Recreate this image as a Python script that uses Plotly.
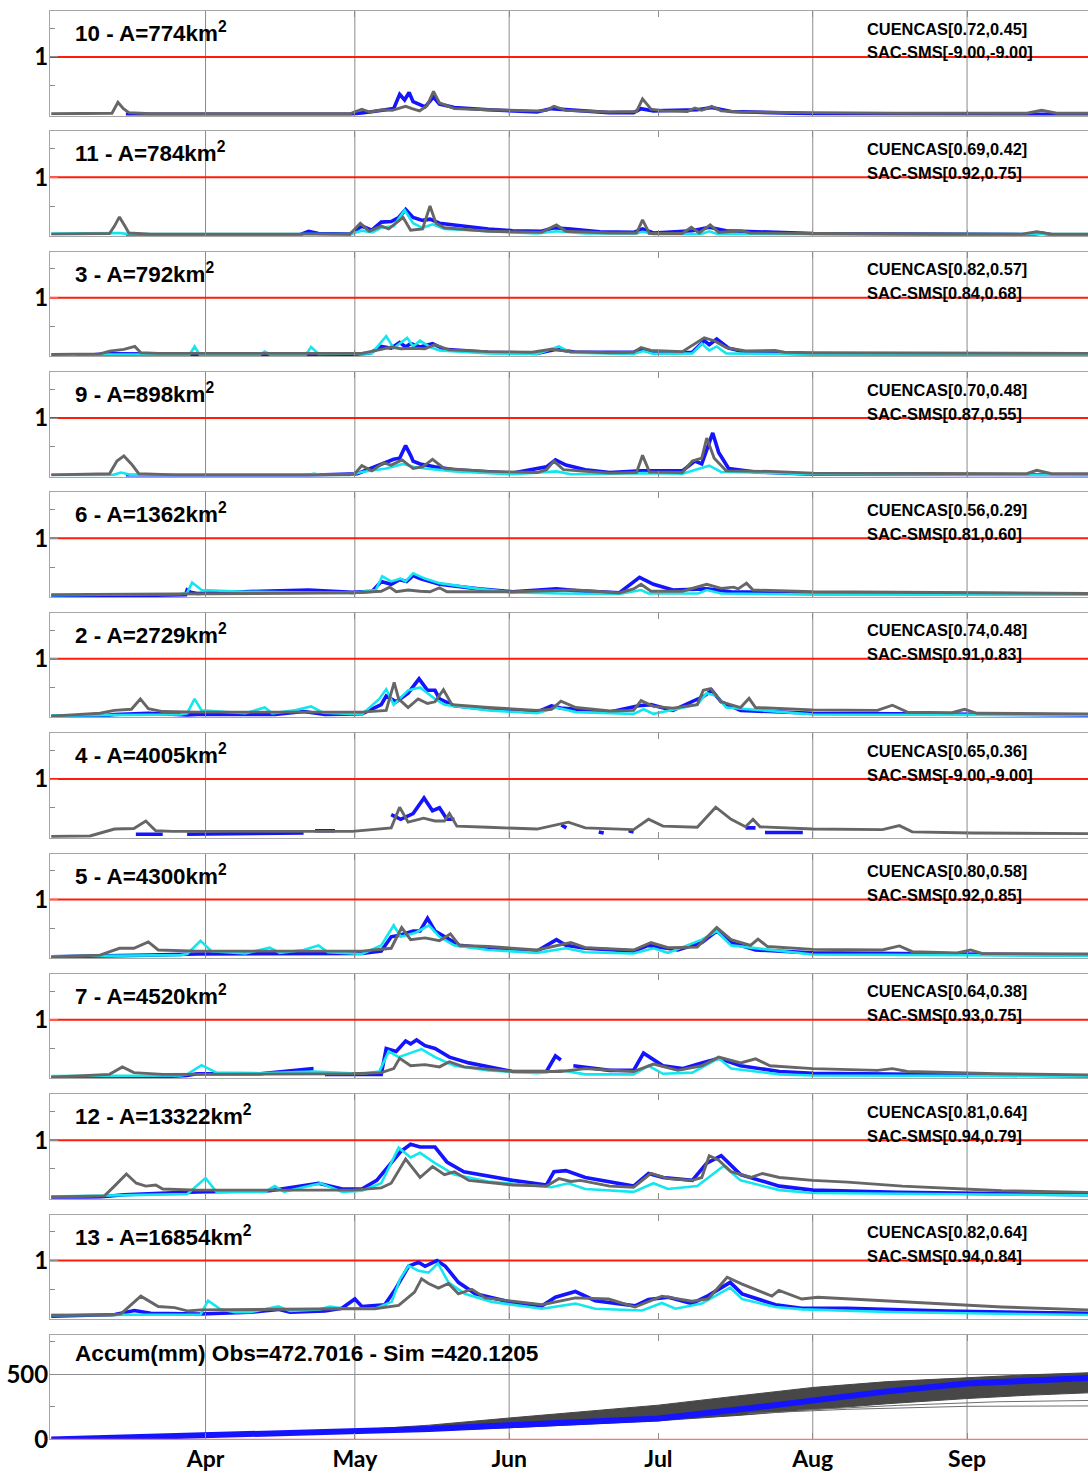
import pandas as pd
import plotly.graph_objects as go

# ---------------------------------------------------------------------------
# Daily streamflow (normalised) per basin: (day since 1 Mar, value) pairs.
# OBS = observed (blue), CUENCAS = CUENCAS model (gray), SAC = SAC-SMS (cyan)
# ---------------------------------------------------------------------------
START = pd.Timestamp("2015-03-01")

BASIN_IDS = [10, 11, 3, 9, 6, 2, 4, 5, 7, 12, 13]
BASIN_AREAS = [774, 784, 792, 898, 1362, 2729, 4005, 4300, 4520, 13322, 16854]
CUENCAS_SCORES = [(0.72, 0.45), (0.69, 0.42), (0.82, 0.57), (0.70, 0.48), (0.56, 0.29),
                  (0.74, 0.48), (0.65, 0.36), (0.80, 0.58), (0.64, 0.38), (0.81, 0.64),
                  (0.82, 0.64)]
SAC_SCORES = [(-9.00, -9.00), (0.92, 0.75), (0.84, 0.68), (0.87, 0.55), (0.81, 0.60),
              (0.91, 0.83), (-9.00, -9.00), (0.92, 0.85), (0.93, 0.75), (0.94, 0.79),
              (0.94, 0.84)]

Q_CUENCAS_10 = [(0, 0.01), (12.2, 0.02), (13.4, 0.21), (14.5, 0.1), (15.6, 0.03), (20, 0.01), (60, 0.01),
                (62.4, 0.09), (64, 0.04), (66.8, 0.08), (68.5, 0.07), (71.2, 0.14), (72.5, 0.1), (74, 0.06),
                (75.5, 0.15), (76.8, 0.40), (78, 0.2), (81, 0.1), (87.8, 0.08), (97.6, 0.06), (99.5, 0.07),
                (101, 0.14), (103.4, 0.07), (112, 0.04), (117.6, 0.05), (118.8, 0.27), (120.5, 0.09),
                (123, 0.06), (127.8, 0.05), (129.3, 0.11), (130.7, 0.07), (132.7, 0.14), (134.6, 0.06),
                (138.5, 0.04), (153, 0.03), (170, 0.02), (196, 0.02), (199, 0.07), (202, 0.02), (208.5, 0.02)]
Q_OBS_10 = [(15, 0.0), (40, 0.0), (60, 0.0), (64, 0.04), (67.3, 0.08), (68.8, 0.1), (70, 0.35), (71, 0.25),
            (71.9, 0.38), (72.7, 0.22), (75.1, 0.13), (76.8, 0.30), (78, 0.18), (81, 0.12), (87.8, 0.08),
            (97.6, 0.04), (100.5, 0.1), (103.4, 0.08), (112, 0.03), (117, 0.03), (118.5, 0.1), (121, 0.06),
            (129.8, 0.08), (132.7, 0.12), (136.6, 0.05), (153, 0.01), (208.5, 0.0)]
Q_SAC_10 = []

Q_CUENCAS_11 = [(0, 0.01), (11.7, 0.02), (12.7, 0.15), (13.7, 0.31), (14.8, 0.15), (15.6, 0.03), (20, 0.01),
                (60, 0.01), (62.1, 0.2), (63.9, 0.06), (66.3, 0.15), (67.8, 0.1), (70.7, 0.30), (72.2, 0.08),
                (74.6, 0.1), (76.1, 0.50), (77.3, 0.2), (79, 0.12), (87.8, 0.06), (98.5, 0.04), (101.5, 0.17),
                (103.4, 0.06), (112.2, 0.03), (117.6, 0.03), (118.8, 0.26), (120.2, 0.02), (126.8, 0.02),
                (128.6, 0.13), (130.2, 0.03), (132.4, 0.17), (134.1, 0.04), (138.5, 0.07), (140.5, 0.03),
                (153, 0.02), (195, 0.01), (198, 0.05), (201, 0.01), (208.5, 0.01)]
Q_OBS_11 = [(15, 0.0), (50, 0.0), (51.7, 0.06), (53.7, 0.02), (60, 0.01), (62.4, 0.15), (64.4, 0.08),
            (66.3, 0.22), (68.3, 0.23), (69.8, 0.3), (71.2, 0.44), (72.7, 0.3), (74.6, 0.25), (76.1, 0.27),
            (78, 0.2), (82.9, 0.15), (87.8, 0.1), (92.7, 0.07), (98.5, 0.06), (101, 0.12), (104.4, 0.1),
            (110.2, 0.05), (117, 0.04), (118.8, 0.1), (121, 0.03), (128.8, 0.07), (132.2, 0.13), (135.6, 0.07),
            (139.5, 0.06), (153, 0.02), (197, 0.0), (199, 0.03), (201, 0.0), (208.5, 0.0)]
Q_SAC_11 = [(0, 0.02), (11.7, 0.02), (13.7, 0.03), (15.6, 0.01), (60, 0.01), (62.4, 0.07), (64.5, 0.04),
            (66.3, 0.12), (68.8, 0.15), (71, 0.43), (72.7, 0.2), (74.6, 0.12), (76.6, 0.18), (79, 0.1),
            (87.8, 0.06), (97.6, 0.02), (101.5, 0.06), (107.3, 0.02), (117.5, 0.02), (118.8, 0.05), (121, 0.01),
            (130.5, 0.01), (132.2, 0.06), (134, 0.01), (153, 0.01), (208.5, 0.01)]

Q_CUENCAS_3 = [(0, 0.01), (9.8, 0.02), (11.7, 0.07), (14.6, 0.1), (16.8, 0.15), (18, 0.04), (21.5, 0.03),
               (60, 0.03), (62.4, 0.03), (66.3, 0.1), (68.3, 0.14), (70.2, 0.11), (72.7, 0.12), (75.1, 0.11),
               (77, 0.18), (80, 0.09), (87.8, 0.06), (96.6, 0.05), (100.5, 0.1), (104.4, 0.06), (112.2, 0.04),
               (117, 0.05), (118.5, 0.13), (120.5, 0.08), (126.8, 0.06), (131.2, 0.30), (133.2, 0.25),
               (135.6, 0.13), (139.5, 0.07), (145.4, 0.08), (147.3, 0.05), (153, 0.04), (208.5, 0.03)]
Q_OBS_3 = [(5, 0.0), (8, 0.0), (10.7, 0.02), (15.6, 0.02), (20, 0.01), (60, 0.01), (64, 0.03), (66.3, 0.15),
           (68.3, 0.12), (70, 0.22), (71.2, 0.14), (72.2, 0.2), (74.1, 0.14), (76.6, 0.2), (79, 0.1),
           (87.8, 0.05), (97.6, 0.03), (101.5, 0.1), (105.4, 0.05), (117, 0.05), (118.5, 0.1), (121, 0.04),
           (128.8, 0.05), (131.2, 0.25), (132.2, 0.18), (133.7, 0.28), (136.1, 0.12), (139.5, 0.05),
           (153, 0.02), (208.5, 0.01)]
Q_SAC_3 = [(0, 0.01), (27.8, 0.01), (28.8, 0.15), (29.8, 0.01), (42, 0.01), (42.9, 0.06), (43.9, 0.01),
           (51.2, 0.01), (52.2, 0.14), (53.7, 0.02), (64.4, 0.03), (67.3, 0.33), (68.8, 0.12), (71.5, 0.3),
           (72.7, 0.15), (74.1, 0.25), (76.1, 0.14), (78, 0.08), (87.8, 0.03), (97.6, 0.02), (102, 0.15),
           (104.4, 0.04), (117, 0.02), (119, 0.07), (121, 0.02), (128.8, 0.03), (130.7, 0.2), (132.2, 0.08),
           (133.7, 0.15), (135.6, 0.03), (153, 0.01), (208.5, 0.01)]

Q_CUENCAS_9 = [(0, 0.01), (11.7, 0.03), (13.2, 0.25), (14.6, 0.34), (16.1, 0.2), (17.6, 0.03), (25, 0.01),
               (60, 0.01), (61, 0.03), (62.4, 0.17), (64.4, 0.08), (66.8, 0.22), (68.3, 0.18), (70.5, 0.27),
               (72.7, 0.12), (74.6, 0.15), (76.6, 0.28), (79, 0.12), (87.8, 0.07), (97.6, 0.05), (99.5, 0.1),
               (101, 0.25), (102.9, 0.1), (112.2, 0.04), (117.6, 0.05), (118.8, 0.35), (120.2, 0.06),
               (126.8, 0.05), (128.8, 0.25), (130.7, 0.3), (131.7, 0.65), (133.2, 0.3), (135.6, 0.08),
               (144.4, 0.07), (153, 0.04), (196, 0.03), (198, 0.09), (201, 0.03), (208.5, 0.03)]
Q_OBS_9 = [(15, 0.0), (50, 0.0), (61.5, 0.03), (66.3, 0.2), (68.8, 0.28), (70, 0.3), (71.2, 0.52),
           (72.2, 0.35), (72.7, 0.25), (74.1, 0.2), (77, 0.15), (81, 0.1), (92.7, 0.04), (99.5, 0.15),
           (101.3, 0.27), (103.4, 0.18), (107.3, 0.1), (112.2, 0.05), (118.5, 0.08), (126.8, 0.08),
           (129.3, 0.25), (130.7, 0.2), (132.9, 0.74), (134.1, 0.4), (136.1, 0.12), (141.5, 0.06),
           (153, 0.02), (208.5, 0.01)]
Q_SAC_9 = [(0, 0.01), (12.5, 0.01), (14, 0.05), (16, 0.01), (52, 0.01), (52.7, 0.03), (54, 0.01), (60, 0.01),
           (62.4, 0.06), (67.3, 0.12), (70.7, 0.2), (72.7, 0.15), (75.1, 0.12), (77, 0.1), (81, 0.07),
           (92.7, 0.02), (101.5, 0.07), (104.4, 0.02), (119, 0.04), (126.8, 0.03), (132.2, 0.17),
           (134.6, 0.06), (141.5, 0.05), (153, 0.02), (208.5, 0.01)]

Q_CUENCAS_6 = [(0, 0.02), (29.3, 0.03), (60.5, 0.05), (66.3, 0.08), (68, 0.15), (69.3, 0.07), (71.7, 0.1),
               (74.1, 0.08), (76.1, 0.07), (78, 0.14), (79.5, 0.07), (92.7, 0.07), (105.4, 0.1), (114.1, 0.05),
               (117, 0.12), (118.5, 0.2), (120.5, 0.08), (126.8, 0.08), (131.7, 0.2), (134.6, 0.13),
               (137.1, 0.15), (138, 0.12), (139.7, 0.22), (141, 0.1), (153, 0.07), (208.5, 0.04)]
Q_OBS_6 = [(0, 0.0), (3, 0.0), (11.7, 0.01), (14.6, 0.0), (27, 0.02), (27.3, 0.1), (28, 0.06), (29.3, 0.04),
           (42, 0.08), (51.7, 0.1), (60.5, 0.06), (64.5, 0.08), (66.3, 0.25), (68.3, 0.2), (70, 0.28),
           (71.4, 0.25), (72.7, 0.35), (74.1, 0.3), (78, 0.2), (85.9, 0.12), (92.7, 0.07), (101.5, 0.12),
           (105.4, 0.09), (114.1, 0.05), (118.2, 0.32), (121, 0.2), (124.9, 0.1), (131.7, 0.12), (136.6, 0.07),
           (153, 0.05), (208.5, 0.03)]
Q_SAC_6 = [(0, 0.01), (26, 0.03), (27.3, 0.05), (28.3, 0.23), (30.2, 0.1), (39, 0.07), (48.8, 0.06),
           (60.5, 0.05), (65.2, 0.1), (66.5, 0.34), (68.3, 0.25), (70.2, 0.3), (71.2, 0.25), (72.7, 0.39),
           (75.1, 0.3), (78, 0.22), (85.9, 0.12), (92.7, 0.06), (102.4, 0.04), (114.1, 0.03), (118.5, 0.1),
           (120, 0.04), (130, 0.04), (131.7, 0.1), (134.6, 0.04), (153, 0.02), (208.5, 0.02)]

Q_CUENCAS_2 = [(0, 0.0), (9.8, 0.05), (12.7, 0.1), (16.1, 0.12), (17.9, 0.30), (19.5, 0.13), (22.4, 0.08),
               (29.3, 0.07), (62.4, 0.07), (67.3, 0.1), (68.9, 0.59), (69.8, 0.3), (71.7, 0.15), (73.7, 0.3),
               (75.6, 0.22), (77.1, 0.25), (78.8, 0.46), (80.5, 0.2), (87.8, 0.15), (97.6, 0.1), (100.5, 0.12),
               (102.4, 0.26), (105.4, 0.15), (112.2, 0.09), (117, 0.1), (118.5, 0.27), (121, 0.17),
               (124.9, 0.14), (129.8, 0.2), (131, 0.45), (132.5, 0.48), (134.6, 0.25), (138.5, 0.15),
               (140.2, 0.31), (141.5, 0.15), (153, 0.11), (166, 0.1), (169, 0.19), (172, 0.07), (181, 0.06),
               (183.5, 0.12), (186, 0.05), (208.5, 0.04)]
Q_OBS_2 = [(0, 0.0), (10, 0.0), (12.7, 0.03), (19.5, 0.05), (27.3, 0.02), (29.3, 0.03), (45, 0.03),
           (50.7, 0.08), (55, 0.03), (62.4, 0.04), (66.3, 0.2), (67.3, 0.35), (69.3, 0.25), (71.7, 0.4),
           (73.9, 0.65), (75.6, 0.45), (77.1, 0.45), (78, 0.3), (81, 0.18), (87.8, 0.12), (97.6, 0.07),
           (100.5, 0.18), (102.4, 0.14), (112.2, 0.07), (118, 0.18), (120.5, 0.2), (124.9, 0.1), (129.8, 0.3),
           (131.2, 0.35), (132.7, 0.45), (134.6, 0.25), (138.5, 0.1), (153, 0.05), (208.5, 0.02)]
Q_SAC_2 = [(0, 0.01), (26, 0.03), (27.3, 0.05), (28.8, 0.30), (30.2, 0.1), (39, 0.05), (42.9, 0.15),
           (44.4, 0.05), (48.8, 0.1), (52.2, 0.17), (54.6, 0.06), (62.4, 0.03), (65.9, 0.3), (67.3, 0.47),
           (68.8, 0.2), (71.7, 0.45), (74.1, 0.5), (77.1, 0.3), (79, 0.2), (87.8, 0.1), (97.6, 0.05),
           (101.5, 0.15), (105.4, 0.07), (117, 0.04), (119, 0.12), (121, 0.04), (129.8, 0.2), (131.7, 0.4),
           (133.7, 0.35), (135.6, 0.15), (153, 0.03), (208.5, 0.02)]

Q_CUENCAS_4 = [(0, 0.0), (7.8, 0.01), (12.7, 0.13), (16.6, 0.14), (19, 0.27), (21, 0.1), (24.4, 0.09),
               (60.5, 0.09), (68.3, 0.15), (70, 0.51), (71.7, 0.25), (74.8, 0.32), (77.1, 0.27), (79, 0.27),
               (80, 0.4), (81.5, 0.18), (87.8, 0.16), (97.6, 0.13), (103.9, 0.25), (107.3, 0.15), (117, 0.12),
               (120, 0.3), (122.9, 0.18), (129.8, 0.16), (133.5, 0.51), (136.6, 0.3), (139.5, 0.17), (141, 0.3),
               (142.4, 0.17), (153, 0.13), (167, 0.12), (170.4, 0.19), (173, 0.08), (185, 0.06), (208.5, 0.05)]
Q_OBS_4 = [(17, 0.04), (22.4, 0.04), (23, None), (27.3, 0.04), (40, 0.05), (50.7, 0.06), (51, None),
           (53, 0.1), (57, 0.1), (57.5, None), (68.3, 0.38), (70.2, 0.3), (72.7, 0.4), (74.9, 0.67),
           (76.6, 0.45), (78, 0.5), (79.5, 0.3), (81, 0.3), (81.5, None), (102.5, 0.2), (103.5, 0.15),
           (104, None), (110, 0.08), (111, 0.06), (111.5, None), (116, 0.1), (117, 0.08), (117.5, None),
           (139.5, 0.15), (141.5, 0.15), (142, None), (143.4, 0.07), (151, 0.07)]
Q_SAC_4 = []

Q_CUENCAS_5 = [(0, 0.0), (9.8, 0.03), (13.7, 0.15), (16.6, 0.15), (19.5, 0.26), (21.5, 0.12), (29.3, 0.1),
               (62.4, 0.1), (68.3, 0.15), (70.4, 0.51), (72.2, 0.3), (75.1, 0.33), (78, 0.28), (80.2, 0.4),
               (82, 0.2), (87.8, 0.18), (97.6, 0.12), (104.4, 0.25), (107.3, 0.16), (117, 0.12), (120.5, 0.25),
               (123.9, 0.16), (129.8, 0.17), (133.7, 0.51), (136.6, 0.3), (140.5, 0.2), (142, 0.31),
               (143.9, 0.18), (153, 0.13), (167, 0.12), (170.4, 0.19), (173, 0.09), (182, 0.07), (184.7, 0.12),
               (187, 0.06), (208.5, 0.05)]
Q_OBS_5 = [(0, 0.0), (12, 0.01), (19.5, 0.03), (29.3, 0.05), (58.5, 0.05), (62.4, 0.06), (66.3, 0.1),
           (68.3, 0.35), (70.2, 0.38), (72.7, 0.45), (74.1, 0.45), (75.6, 0.67), (77.1, 0.45), (79, 0.35),
           (82, 0.2), (87.8, 0.15), (97.6, 0.1), (101.5, 0.3), (103.4, 0.2), (107.3, 0.15), (117, 0.1),
           (120, 0.2), (125.9, 0.12), (130.7, 0.25), (133.7, 0.45), (136.6, 0.25), (141.5, 0.12), (153, 0.07),
           (208.5, 0.03)]
Q_SAC_5 = [(0, 0.01), (26, 0.03), (27.3, 0.05), (30, 0.28), (32.2, 0.1), (39, 0.06), (43.9, 0.16),
           (45.9, 0.07), (50.7, 0.12), (53.7, 0.2), (55.6, 0.08), (62.4, 0.05), (66.3, 0.2), (68.8, 0.55),
           (70.2, 0.35), (73.2, 0.42), (75.9, 0.55), (78, 0.35), (81, 0.2), (87.8, 0.12), (97.6, 0.07),
           (103.4, 0.15), (107.3, 0.08), (117, 0.06), (121, 0.15), (123.9, 0.07), (130.7, 0.3), (133.7, 0.45),
           (136.6, 0.2), (153, 0.04), (208.5, 0.02)]

Q_CUENCAS_7 = [(0, 0.0), (11.7, 0.05), (14.3, 0.18), (16.6, 0.08), (22.4, 0.05), (60.5, 0.06), (66.3, 0.08),
               (68.8, 0.15), (70, 0.33), (72.2, 0.2), (75.1, 0.22), (78, 0.18), (80, 0.27), (82.9, 0.18),
               (92.7, 0.1), (102.4, 0.1), (107.3, 0.15), (117, 0.1), (121, 0.23), (125.9, 0.12), (130.7, 0.2),
               (134.1, 0.35), (138.5, 0.25), (141.5, 0.32), (144.4, 0.2), (153, 0.15), (166, 0.12), (169, 0.15),
               (172, 0.1), (190, 0.06), (208.5, 0.04)]
Q_OBS_7 = [(0, 0.0), (20, 0.0), (27.3, 0.03), (29.3, 0.06), (42, 0.06), (52.7, 0.15), (53, None), (55, 0.05),
           (66.3, 0.05), (67.3, 0.5), (69.3, 0.45), (71.2, 0.63), (72.2, 0.58), (73.4, 0.65), (75.1, 0.55),
           (77.1, 0.5), (80, 0.35), (83.9, 0.25), (92.7, 0.1), (99.5, 0.1), (101.3, 0.37), (102.4, 0.3),
           (102.8, None), (104.9, 0.2), (112.2, 0.12), (117, 0.12), (119, 0.42), (122.9, 0.2), (126.8, 0.15),
           (130.7, 0.25), (134.1, 0.33), (138.5, 0.2), (146.3, 0.1), (153, 0.07), (208.5, 0.02)]
Q_SAC_7 = [(0, 0.02), (26, 0.03), (27.3, 0.05), (30.2, 0.21), (33.2, 0.08), (42, 0.07), (52.7, 0.1),
           (62.4, 0.06), (65.9, 0.1), (67.8, 0.45), (69.8, 0.35), (72.2, 0.42), (74.4, 0.49), (77.1, 0.35),
           (81, 0.2), (87.8, 0.12), (97.6, 0.07), (102.4, 0.12), (107.3, 0.05), (117, 0.05), (120, 0.2),
           (122.9, 0.06), (128.8, 0.08), (134.1, 0.33), (136.6, 0.15), (146.3, 0.05), (153, 0.03), (208.5, 0.02)]

Q_CUENCAS_12 = [(0, 0.01), (10.7, 0.03), (12.7, 0.2), (15.1, 0.41), (17.1, 0.25), (19, 0.2), (21, 0.22),
                (22.4, 0.15), (29.3, 0.13), (60.5, 0.13), (66.3, 0.17), (68.3, 0.25), (71.2, 0.67), (74.1, 0.35),
                (76.6, 0.54), (79, 0.4), (81, 0.45), (83.9, 0.3), (92.7, 0.22), (99.5, 0.2), (102, 0.33),
                (104.4, 0.28), (106.3, 0.3), (112.2, 0.2), (117, 0.18), (120.5, 0.42), (123.9, 0.33),
                (128.8, 0.3), (130.7, 0.35), (132.2, 0.73), (134.1, 0.65), (136.6, 0.45), (140.5, 0.35),
                (142.9, 0.42), (146.3, 0.35), (153, 0.3), (160, 0.27), (171, 0.2), (191, 0.12), (208.5, 0.09)]
Q_OBS_12 = [(0, 0.0), (9.8, 0.01), (14.6, 0.05), (29.3, 0.1), (43.9, 0.12), (53.7, 0.25), (58.5, 0.15),
            (62.4, 0.15), (65.4, 0.3), (68.3, 0.6), (70.2, 0.8), (72.2, 0.93), (74.1, 0.88), (77.1, 0.88),
            (79.5, 0.62), (82.9, 0.45), (92.7, 0.3), (99.5, 0.22), (101, 0.45), (103.4, 0.47), (107.3, 0.35),
            (117, 0.2), (120, 0.42), (122.9, 0.35), (128.8, 0.3), (131.7, 0.6), (134.6, 0.73), (138.5, 0.4),
            (146.3, 0.2), (153, 0.13), (170, 0.09), (208.5, 0.05)]
Q_SAC_12 = [(0, 0.02), (26, 0.05), (27.3, 0.06), (31, 0.34), (33.2, 0.1), (42.9, 0.1), (44.9, 0.2),
            (46.8, 0.1), (54.1, 0.25), (58.5, 0.1), (62.4, 0.12), (66.3, 0.25), (69.8, 0.87), (72.2, 0.7),
            (74.1, 0.78), (77.1, 0.6), (81, 0.4), (87.8, 0.28), (97.6, 0.2), (100.5, 0.18), (103.9, 0.25),
            (107.3, 0.15), (117, 0.1), (121, 0.25), (123.9, 0.15), (129.8, 0.2), (135.1, 0.55), (138.5, 0.3),
            (146.3, 0.13), (153, 0.08), (208.5, 0.04)]

Q_CUENCAS_13 = [(0, 0.05), (12, 0.05), (14, 0.07), (18, 0.38), (21.5, 0.2), (24.8, 0.18), (27.5, 0.12),
                (30, 0.14), (58.4, 0.16), (65, 0.16), (69.8, 0.22), (73, 0.45), (74.4, 0.68), (75.8, 0.6),
                (77.8, 0.52), (79.8, 0.6), (81.8, 0.42), (84.5, 0.5), (87.2, 0.35), (92, 0.3), (98.6, 0.23),
                (105.3, 0.35), (112, 0.33), (117.3, 0.19), (122.7, 0.38), (128.7, 0.29), (132, 0.33),
                (135.8, 0.71), (138.8, 0.59), (142.8, 0.45), (144.8, 0.38), (146.2, 0.48), (150.8, 0.33),
                (154, 0.36), (171, 0.28), (191, 0.19), (208.5, 0.14)]
Q_OBS_13 = [(0, 0.03), (12.8, 0.06), (16.7, 0.13), (20, 0.08), (30, 0.07), (40, 0.1), (45.6, 0.15), (48, 0.1),
            (55, 0.12), (58.4, 0.17), (61, 0.33), (62.4, 0.2), (67, 0.23), (69, 0.48), (71.8, 0.9),
            (73.8, 0.97), (75.1, 0.9), (77.5, 1.0), (79.2, 0.9), (81.8, 0.62), (85.2, 0.42), (92, 0.28),
            (98.6, 0.21), (101.3, 0.36), (105.3, 0.46), (109.3, 0.3), (117.3, 0.21), (120, 0.32), (124, 0.36),
            (128.7, 0.25), (132, 0.39), (136.4, 0.62), (138.8, 0.42), (145.5, 0.23), (150.8, 0.17), (160, 0.17),
            (180, 0.12), (208.5, 0.08)]
Q_SAC_13 = [(0, 0.05), (30, 0.06), (31.5, 0.3), (34, 0.15), (36.9, 0.1), (40, 0.1), (45.6, 0.2), (48, 0.12),
            (54, 0.15), (56, 0.2), (58.4, 0.17), (65, 0.16), (68.4, 0.28), (70.1, 0.68), (71.8, 0.91),
            (73.8, 0.82), (75.8, 0.79), (77.7, 0.95), (79.8, 0.62), (83.1, 0.42), (88.5, 0.28), (98.6, 0.16),
            (105.3, 0.25), (109.3, 0.16), (118.7, 0.13), (122.7, 0.26), (125.4, 0.16), (130.7, 0.25),
            (136.4, 0.53), (138.8, 0.33), (145.5, 0.19), (150.8, 0.15), (170, 0.1), (208.5, 0.05)]

SERIES_OBS = [Q_OBS_10, Q_OBS_11, Q_OBS_3, Q_OBS_9, Q_OBS_6, Q_OBS_2, Q_OBS_4, Q_OBS_5, Q_OBS_7,
              Q_OBS_12, Q_OBS_13]
SERIES_CUENCAS = [Q_CUENCAS_10, Q_CUENCAS_11, Q_CUENCAS_3, Q_CUENCAS_9, Q_CUENCAS_6, Q_CUENCAS_2,
                  Q_CUENCAS_4, Q_CUENCAS_5, Q_CUENCAS_7, Q_CUENCAS_12, Q_CUENCAS_13]
SERIES_SAC = [Q_SAC_10, Q_SAC_11, Q_SAC_3, Q_SAC_9, Q_SAC_6, Q_SAC_2, Q_SAC_4, Q_SAC_5, Q_SAC_7,
              Q_SAC_12, Q_SAC_13]

# Accumulated volume (mm): observed curve and envelope of the CUENCAS ensemble
OBS_TOTAL = 472.7016
SIM_TOTAL = 420.1205
ACC_DAYS = [0, 31, 61, 76, 92, 107, 122, 138, 153, 168, 184, 196, 208.5]
ACC_OBS = [0, 31, 59, 80, 110, 135, 162, 230, 300, 370, 431, 455, OBS_TOTAL]
ACC_ENS_HIGH = [0, 32, 72, 110, 165, 215, 264, 335, 400, 445, 477, 497, 513]
ACC_ENS_LOW = [0, 28, 55, 68, 90, 115, 144, 185, 231, 275, 315, 340, 359]
ACC_ENS_STRAY_A = [(140, 200), (160, 232), (184, 255), (208.5, 258)]
ACC_ENS_STRAY_B = [(150, 225), (170, 262), (190, 290), (208.5, 300)]

MONTH_TICKS = ["2015-04-01", "2015-05-01", "2015-06-01", "2015-07-01", "2015-08-01", "2015-09-01"]
MONTH_LABELS = ["Apr", "May", "Jun", "Jul", "Aug", "Sep"]
GRID_MONTHS = ["2015-04-01", "2015-05-01", "2015-06-01", "2015-08-01", "2015-09-01"]

# ---------------------------------------------------------------------------
FIG_W, FIG_H = 1088, 1473
LEFT = 50
TOP0, PITCH, PANEL_H = 11.0, 120.36, 104.5
N_PANELS = len(BASIN_IDS) + 1

C_OBS = "#1414ff"
C_CUENCAS = "#666666"
C_SAC = "#14e6ee"
C_AXIS = "#a6a6a6"
C_GRID = "#8c8c8c"

X_RANGE = [START - pd.Timedelta(hours=6), START + pd.Timedelta(days=208.3)]


def to_xy(pairs):
    xs = [START + pd.Timedelta(days=d) for d, _ in pairs]
    ys = [v for _, v in pairs]
    return xs, ys


def domain_of(i):
    top = TOP0 + PITCH * i
    bottom = top + PANEL_H
    return [1 - bottom / FIG_H, 1 - top / FIG_H], top


fig = go.Figure()
layout = {}
shapes = []
annotations = []

TICK_FONT = dict(family="Lato, DejaVu Sans, sans-serif", size=23, color="black", weight="bold")
YTICK_FONT = dict(family="Lato, DejaVu Sans, sans-serif", size=24, color="black", weight="bold")
TXT_FONT = "Liberation Sans, Arial, sans-serif"
PLOT_W = FIG_W - LEFT

for i in range(N_PANELS):
    n = i + 1
    xa = "x" if n == 1 else f"x{n}"
    ya = "y" if n == 1 else f"y{n}"
    xkey = "xaxis" if n == 1 else f"xaxis{n}"
    ykey = "yaxis" if n == 1 else f"yaxis{n}"
    dom, top_px = domain_of(i)
    last = (i == N_PANELS - 1)

    layout[xkey] = dict(
        domain=[0, 1], anchor=ya, type="date", range=X_RANGE,
        tickmode="array", tickvals=MONTH_TICKS, ticktext=MONTH_LABELS,
        ticks="inside", ticklen=6, tickcolor=C_GRID, tickwidth=1,
        showline=True, linecolor=C_AXIS, linewidth=1, mirror="ticks",
        showgrid=False, zeroline=False, showticklabels=last,
        tickfont=TICK_FONT, ticklabelstandoff=-1,
    )
    if n > 1:
        layout[xkey]["matches"] = "x"

    for gm in GRID_MONTHS:
        shapes.append(dict(type="line", xref=xa, yref=f"{ya} domain", x0=gm, x1=gm, y0=0, y1=1,
                           line=dict(color=C_GRID, width=1), layer="below"))

    if not last:
        layout[ykey] = dict(
            domain=dom, anchor=xa, range=[-0.02, 1.80],
            tickmode="array", tickvals=[1], ticktext=["1"],
            ticks="inside", ticklen=8, tickcolor=C_GRID,
            minor=dict(tickmode="array", tickvals=[0.5, 1.5], ticks="inside", ticklen=5, tickcolor=C_GRID),
            showline=True, linecolor=C_AXIS, linewidth=1, mirror=False,
            showgrid=False, zeroline=False, tickfont=YTICK_FONT, ticklabelstandoff=-4,
        )
        shapes.append(dict(type="line", xref=f"{xa} domain", yref=ya, x0=0, x1=1, y0=1, y1=1,
                           line=dict(color="#ff1c0c", width=2), layer="below"))

        for pairs, color, width in ((SERIES_OBS[i], C_OBS, 3.6),
                                    (SERIES_SAC[i], C_SAC, 2.6),
                                    (SERIES_CUENCAS[i], C_CUENCAS, 2.9)):
            if not pairs:
                continue
            xs, ys = to_xy(pairs)
            fig.add_trace(go.Scatter(x=xs, y=ys, mode="lines", xaxis=xa, yaxis=ya,
                                     line=dict(color=color, width=width),
                                     connectgaps=False, showlegend=False, hoverinfo="skip"))

        bid, area = BASIN_IDS[i], BASIN_AREAS[i]
        c1, c2 = CUENCAS_SCORES[i]
        s1, s2 = SAC_SCORES[i]
        annotations.append(dict(
            xref="paper", yref="paper", x=23 / PLOT_W, y=1 - (top_px + 21) / FIG_H,
            xanchor="left", yanchor="middle", showarrow=False,
            text=f"<b>{bid} - A={area}km<sup>2</sup></b>",
            font=dict(family=TXT_FONT, size=22.4, color="black")))
        annotations.append(dict(
            xref="paper", yref="paper", x=(865 - LEFT) / PLOT_W, y=1 - (top_px + 17.5) / FIG_H,
            xanchor="left", yanchor="middle", showarrow=False,
            text=f"<b>CUENCAS[{c1:.2f},{c2:.2f}]</b>",
            font=dict(family=TXT_FONT, size=16.4, color="black")))
        annotations.append(dict(
            xref="paper", yref="paper", x=(865 - LEFT) / PLOT_W, y=1 - (top_px + 41.5) / FIG_H,
            xanchor="left", yanchor="middle", showarrow=False,
            text=f"<b>SAC-SMS[{s1:.2f},{s2:.2f}]</b>",
            font=dict(family=TXT_FONT, size=16.4, color="black")))
    else:
        layout[ykey] = dict(
            domain=dom, anchor=xa, range=[0, 804],
            tickmode="array", tickvals=[0, 500], ticktext=["0", "500"],
            ticks="inside", ticklen=8, tickcolor=C_GRID,
            minor=dict(tickmode="array", tickvals=[250, 750], ticks="inside", ticklen=5, tickcolor=C_GRID),
            showline=True, linecolor=C_AXIS, linewidth=1, mirror=False,
            showgrid=True, gridcolor=C_GRID, gridwidth=1, zeroline=False,
            tickfont=YTICK_FONT, ticklabelstandoff=-4,
        )
        acc_x = [START + pd.Timedelta(days=d) for d in ACC_DAYS]
        fig.add_trace(go.Scatter(x=acc_x, y=ACC_ENS_LOW, mode="lines", xaxis=xa, yaxis=ya,
                                 line=dict(color="#474747", width=1), showlegend=False, hoverinfo="skip"))
        fig.add_trace(go.Scatter(x=acc_x, y=ACC_ENS_HIGH, mode="lines", xaxis=xa, yaxis=ya,
                                 fill="tonexty", fillcolor="#474747",
                                 line=dict(color="#474747", width=1), showlegend=False, hoverinfo="skip"))
        for stray in (ACC_ENS_STRAY_A, ACC_ENS_STRAY_B):
            sx, sy = to_xy(stray)
            fig.add_trace(go.Scatter(x=sx, y=sy, mode="lines", xaxis=xa, yaxis=ya,
                                     line=dict(color="#6e6e6e", width=1), showlegend=False, hoverinfo="skip"))
        fig.add_trace(go.Scatter(x=acc_x, y=ACC_OBS, mode="lines", xaxis=xa, yaxis=ya,
                                 line=dict(color=C_OBS, width=6), showlegend=False, hoverinfo="skip"))
        shapes.append(dict(type="line", xref=f"{xa} domain", yref=ya, x0=0, x1=1, y0=0, y1=0,
                           line=dict(color="#ff6a6a", width=1.5), layer="above"))
        annotations.append(dict(
            xref="paper", yref="paper", x=23 / PLOT_W, y=1 - (top_px + 18.5) / FIG_H,
            xanchor="left", yanchor="middle", showarrow=False,
            text=f"<b>Accum(mm) Obs={OBS_TOTAL:.4f} - Sim ={SIM_TOTAL:.4f}</b>",
            font=dict(family=TXT_FONT, size=22.6, color="black")))

fig.update_layout(
    width=FIG_W, height=FIG_H,
    margin=dict(l=LEFT, r=0, t=0, b=0, autoexpand=False),
    paper_bgcolor="white", plot_bgcolor="white",
    showlegend=False, shapes=shapes, annotations=annotations,
    **layout,
)

fig.write_html("out.html")
